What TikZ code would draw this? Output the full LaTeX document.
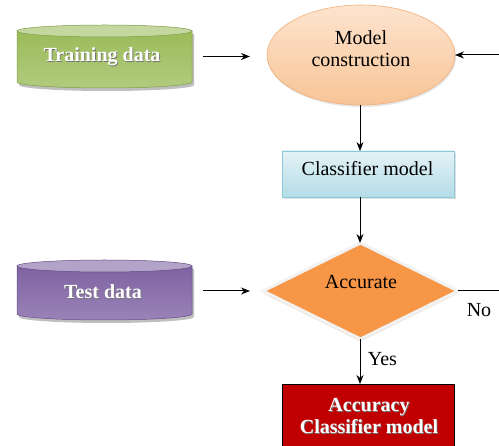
\documentclass[tikz,border=0pt]{standalone}
\usepackage{fontspec}
\setmainfont{Liberation Serif}
\usetikzlibrary{shapes.geometric,arrows.meta,shadows,calc}
\definecolor{grtop}{HTML}{C4D79E}
\definecolor{grA}{HTML}{9BBB59}
\definecolor{grB}{HTML}{B2CB7F}
\definecolor{grEdge}{HTML}{7F9E45}
\definecolor{pTop}{HTML}{B4A3C9}
\definecolor{pA}{HTML}{7E62A1}
\definecolor{pB}{HTML}{9A83B8}
\definecolor{pEdge}{HTML}{654C85}
\definecolor{peachA}{HTML}{FDE4CE}
\definecolor{peachB}{HTML}{F8C497}
\definecolor{peachEdge}{HTML}{F2AE78}
\definecolor{blA}{HTML}{E4F3F7}
\definecolor{blB}{HTML}{B4DCE7}
\definecolor{blEdge}{HTML}{8CC9DA}
\definecolor{orangeF}{HTML}{F79646}
\definecolor{darkred}{HTML}{C00000}
\newcommand{\shtext}[3]{%
  \node[text=black!55, font=\fontspec{Liberation Serif}\fontsize{20}{22}\selectfont\bfseries, align=center] at ($(#1)+(0.8,0.8)$) {#3};
  \node[text=white, font=\fontspec{Liberation Serif}\fontsize{20}{22}\selectfont\bfseries, align=center] (#2) at (#1) {#3};}
\begin{document}
\begin{tikzpicture}[x=1pt,y=-1pt,
  font=\fontspec{Liberation Serif}\fontsize{20}{22}\selectfont,
  arr/.style={-{Stealth[length=9pt,width=7pt]}, line width=1pt},
  area/.style={inner sep=0pt, outer sep=0pt}]
\useasboundingbox (0,0) rectangle (499,446);
\clip (0,0) rectangle (499,446);

% Training data cylinder
\node[area, minimum width=175pt, minimum height=63pt] (train) at (104.5,56.5) {};
\fill[black!25] (19,34) -- (19,85) arc[start angle=180,end angle=360,x radius=87.5pt,y radius=6pt] -- (194,34) -- cycle;
\shade[top color=grA, bottom color=grB, draw=grEdge, line width=0.5pt]
  (17,31) -- (17,82) arc[start angle=180,end angle=360,x radius=87.5pt,y radius=6pt] -- (192,31) -- cycle;
\fill[grtop, draw=grEdge, line width=0.5pt] (104.5,31) ellipse[x radius=87.5pt, y radius=6pt];
\shtext{102,57}{traintxt}{Training data}

% Test data cylinder
\node[area, minimum width=175pt, minimum height=60pt] (test) at (104.5,291) {};
\fill[black!25] (19,269) -- (19,317) arc[start angle=180,end angle=360,x radius=87.5pt,y radius=6pt] -- (194,269) -- cycle;
\shade[top color=pA, bottom color=pB, draw=pEdge, line width=0.5pt]
  (17,266) -- (17,314) arc[start angle=180,end angle=360,x radius=87.5pt,y radius=6pt] -- (192,266) -- cycle;
\fill[pTop, draw=pEdge, line width=0.5pt] (104.5,266) ellipse[x radius=87.5pt, y radius=6pt];
\shtext{103,292}{testtxt}{Test data}

% Model construction ellipse
\node[ellipse, area, minimum width=188pt, minimum height=100pt,
  top color=peachA, bottom color=peachB, draw=peachEdge, line width=0.6pt,
  drop shadow={shadow xshift=1pt, shadow yshift=-2pt, fill=black!20}] (model) at (361,55) {};
\node[align=center] (modeltxt) at (361,49) {Model\\construction};

% Classifier model box
\node[rectangle, area, minimum width=172pt, minimum height=46pt,
  top color=blA, bottom color=blB, draw=blEdge, line width=0.6pt,
  drop shadow={shadow xshift=2pt, shadow yshift=-2pt, fill=black!25}] (cls) at (368,174) {};
\node (clstxt) at (367.5,169) {Classifier model};

% Accurate diamond
\node[diamond, area, aspect=2.03, minimum width=195pt, minimum height=96pt,
  fill=orangeF, draw=white!95!black, line width=3pt,
  drop shadow={shadow xshift=0pt, shadow yshift=-2.5pt, fill=brown!45!white}] (accd) at (360.5,291) {};
\node (acctxt) at (361,282) {Accurate};

% Accuracy Classifier model box
\node[rectangle, area, minimum width=172pt, minimum height=65pt,
  fill=darkred, draw=black, line width=0.6pt] (res) at (368,416.5) {};
\shtext{369,416}{restxt}{Accuracy\\Classifier model}

% connectors
\draw[arr, shorten <=11pt, shorten >=17pt] (train.east) -- (train.east -| model.west);
\draw[arr, shorten <=11pt, shorten >=13pt] (test.east) -- (test.east -| accd.west);
\draw[arr] (model.south -| 360,0) -- (cls.north -| 360,0);
\draw[arr] (cls.south -| 360,0) -- (accd.north -| 360,0);
\draw[arr] (accd.south -| 360,0) -- node[right, pos=0.45, xshift=4pt] (yes) {Yes} (res.north -| 360,0);
\draw[arr] (accd.east) -- (520,291) |- (model.east);
\node (no) at (479,310) {No};
\end{tikzpicture}
\end{document}
